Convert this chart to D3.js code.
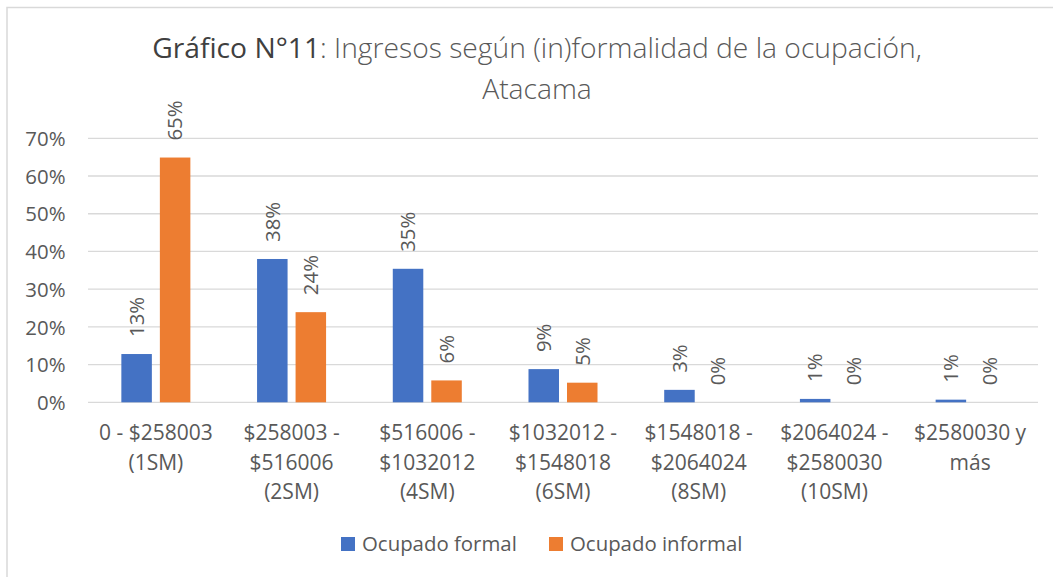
<!DOCTYPE html>
<html><head><meta charset="utf-8">
<script src="https://cdn.jsdelivr.net/npm/d3@7"></script>
<style>
body{margin:0;background:#fff;}
text{font-family:"Open Sans","Noto Sans",sans-serif;fill:#595959;}
</style></head>
<body><svg id="c" width="1053" height="577"></svg>
<script>
const categories = [
  ["0 - $258003","(1SM)"],
  ["$258003 -","$516006","(2SM)"],
  ["$516006 -","$1032012","(4SM)"],
  ["$1032012 -","$1548018","(6SM)"],
  ["$1548018 -","$2064024","(8SM)"],
  ["$2064024 -","$2580030","(10SM)"],
  ["$2580030 y","más"]
];
const seriesNames = ["Ocupado formal","Ocupado informal"];
const formal = [0.128, 0.380, 0.354, 0.088, 0.033, 0.009, 0.007];
const informal = [0.649, 0.239, 0.058, 0.052, 0.0, 0.0, 0.0];
const formalLabels = ["13%","38%","35%","9%","3%","1%","1%"];
const informalLabels = ["65%","24%","6%","5%","0%","0%","0%"];
const yTicks = [0,0.1,0.2,0.3,0.4,0.5,0.6,0.7];
const colors = ["#4472C4","#ED7D31"];

const svg = d3.select("#c");
svg.append("path").attr("d","M7,577 V7.5 H1053").attr("fill","none").attr("stroke","#D9D9D9").attr("stroke-width",1.5);

const left=88, right=1038, y0=402.3, yTop=138.3;
const FS = 20.4;
const catIdx = d3.range(categories.length);
const x0 = d3.scaleBand().domain(catIdx).range([left,right]).paddingInner(0.4915).paddingOuter(0.4915/2);
const x1 = d3.scaleBand().domain([0,1]).range([0,x0.bandwidth()]).paddingInner(0.2078);
const y = d3.scaleLinear().domain([0,0.7]).range([y0,yTop]);

svg.append("g").selectAll("line").data(yTicks).join("line")
  .attr("x1",left).attr("x2",right).attr("y1",d=>y(d)).attr("y2",d=>y(d))
  .attr("stroke","#D9D9D9").attr("stroke-width",1.3);

const yAxis = d3.axisLeft(y).tickValues(yTicks).tickFormat(d3.format(".0%")).tickSize(0).tickPadding(0);
const ga = svg.append("g").attr("transform","translate(65.5,0)").call(yAxis);
ga.select(".domain").remove();
ga.selectAll("text").attr("font-size",FS).attr("fill","#595959").attr("font-family","'Open Sans'").attr("dy","0.35em");

const series = [formal, informal];
const labels = [formalLabels, informalLabels];
series.forEach((vals,s)=>{
  const g = svg.append("g");
  g.selectAll("rect").data(vals).join("rect")
    .attr("x",(d,i)=>x0(i)+x1(s)).attr("width",x1.bandwidth())
    .attr("y",d=>y(d)).attr("height",d=>y0-y(d)).attr("fill",colors[s]);
  g.selectAll("text").data(vals).join("text")
    .attr("transform",(d,i)=>`translate(${x0(i)+x1(s)+x1.bandwidth()/2+7.3},${y(d)-17}) rotate(-90)`)
    .attr("font-size",FS).attr("text-anchor","start")
    .text((d,i)=>labels[s][i]);
});

const xl = svg.append("g");
categories.forEach((lines,i)=>{
  const cx = x0(i)+x0.bandwidth()/2;
  lines.forEach((t,j)=>{
    xl.append("text").attr("x",cx).attr("y",433+j*29.5).attr("dy","0.35em")
      .attr("text-anchor","middle").attr("font-size",21).text(t);
  });
});

const legX = [341,549];
seriesNames.forEach((n,s)=>{
  svg.append("rect").attr("x",legX[s]).attr("y",537).attr("width",14).attr("height",14).attr("fill",colors[s]);
  svg.append("text").attr("x",legX[s]+21).attr("y",544).attr("dy","0.35em").attr("font-size",FS).text(n);
});

// title
const t1 = svg.append("text").attr("x",0).attr("y",0).attr("text-anchor","middle").attr("font-size",27);
t1.append("tspan").attr("font-weight",400).attr("fill","#404040").text("Gráfico N°11");
t1.append("tspan").attr("font-weight",300).text(": Ingresos según (in)formalidad de la ocupación,");
const w = t1.node().getComputedTextLength();
const sx = 770/w;
t1.attr("transform",`translate(537,57.7) scale(${sx},1)`);
svg.append("text").attr("x",0).attr("y",0).attr("text-anchor","middle").attr("font-size",27).attr("font-weight",300)
  .attr("transform",`translate(537,98.5) scale(${sx},1)`).text("Atacama");
</script></body></html>
